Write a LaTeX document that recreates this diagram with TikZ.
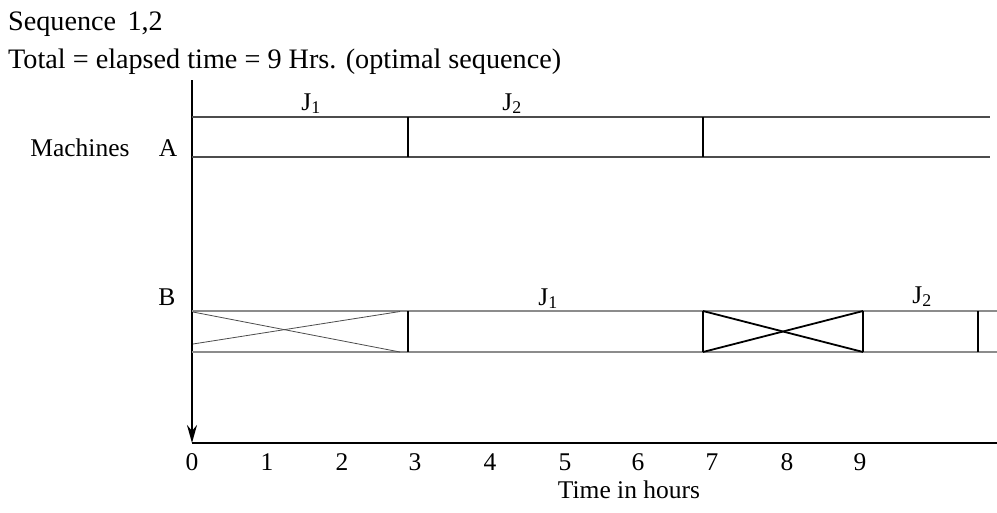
\documentclass[tikz,border=0pt]{standalone}
\usepackage{fontspec}
\setmainfont{Liberation Serif}
\usetikzlibrary{arrows.meta}
\begin{document}
\begin{tikzpicture}[x=1pt,y=-1pt,
  lbl/.style={inner sep=0pt,font=\fontsize{25.5}{27}\selectfont,anchor=base},
  head/.style={inner sep=0pt,font=\fontsize{28.2}{30}\selectfont,anchor=base west},
  ax/.style={line width=1.8pt,black},
  rowA/.style={line width=1.2pt,black!70},
  rowB/.style={line width=1.2pt,black!45},
  divline/.style={line width=1.8pt,black},
  thincross/.style={line width=0.8pt,black!70},
  thickcross/.style={line width=1.8pt,black}]
\useasboundingbox (0,0) rectangle (997,512);
% heading
\node[head] (seq) at (8,30) {Sequence\hspace{0.4em}1,2};
\node[head] (tot) at (8,68) {Total = elapsed time = 9 Hrs. (optimal sequence)};
% axes
\coordinate (top) at (192,80);
\coordinate (o) at (192,443);
\coordinate (xend) at (997,443);
\draw[ax,-{Stealth[length=18pt,width=10pt]}] (top) -- (o);
\draw[ax] (o) -- (xend);
% machine A
\coordinate (a1) at (192,117); \coordinate (a1e) at (990,117);
\coordinate (a2) at (192,157); \coordinate (a2e) at (990,157);
\draw[rowA] (a1) -- (a1e);
\draw[rowA] (a2) -- (a2e);
\coordinate (ad1t) at (408,117); \coordinate (ad1b) at (408,157);
\coordinate (ad2t) at (703,117); \coordinate (ad2b) at (703,157);
\draw[divline] (ad1t) -- (ad1b);
\draw[divline] (ad2t) -- (ad2b);
\node[lbl] (aj1) at (311,110) {J\textsubscript{1}};
\node[lbl] (aj2) at (512,110) {J\textsubscript{2}};
\node[lbl] (mach) at (80,156) {Machines};
\node[lbl] (la) at (168,156) {A};
% machine B
\node[lbl] (lb) at (167,305) {B};
\coordinate (b1) at (192,311); \coordinate (b1e) at (997,311);
\coordinate (b2) at (192,352); \coordinate (b2e) at (997,352);
\draw[rowB] (b1) -- (b1e);
\draw[rowB] (b2) -- (b2e);
\coordinate (c1a) at (193,312); \coordinate (c1b) at (400,352);
\coordinate (c1c) at (193,344); \coordinate (c1d) at (400,311.5);
\draw[thincross] (c1a) -- (c1b);
\draw[thincross] (c1c) -- (c1d);
\coordinate (bd1t) at (408,311); \coordinate (bd1b) at (408,352);
\draw[divline] (bd1t) -- (bd1b);
\coordinate (x1t) at (703,311); \coordinate (x1b) at (703,352);
\coordinate (x2t) at (863,311); \coordinate (x2b) at (863,352);
\draw[divline] (x1t) -- (x1b);
\draw[divline] (x2t) -- (x2b);
\draw[thickcross] (x1t) -- (x2b);
\draw[thickcross] (x1b) -- (x2t);
\coordinate (bd3t) at (978,311); \coordinate (bd3b) at (978,352);
\draw[divline] (bd3t) -- (bd3b);
\node[lbl] (bj1) at (548,305) {J\textsubscript{1}};
\node[lbl] (bj2) at (922,303) {J\textsubscript{2}};
% tick labels
\node[lbl] (t0) at (192,470) {0};
\node[lbl] (t1) at (267,470) {1};
\node[lbl] (t2) at (342,470) {2};
\node[lbl] (t3) at (415,470) {3};
\node[lbl] (t4) at (490,470) {4};
\node[lbl] (t5) at (565,470) {5};
\node[lbl] (t6) at (638,470) {6};
\node[lbl] (t7) at (712,470) {7};
\node[lbl] (t8) at (787,470) {8};
\node[lbl] (t9) at (860,470) {9};
\node[lbl] (tih) at (629,498) {Time in hours};
\end{tikzpicture}
\end{document}
